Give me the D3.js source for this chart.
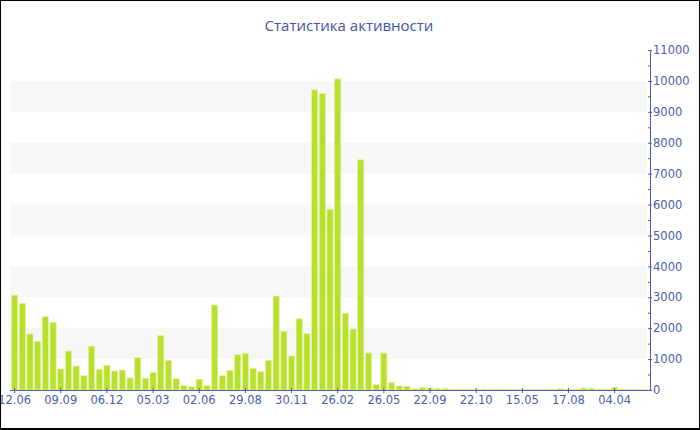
<!DOCTYPE html>
<html><head><meta charset="utf-8">
<script src="https://cdn.jsdelivr.net/npm/d3@7"></script>
<style>body{margin:0;background:#fff}svg{display:block}</style>
</head><body>
<script>
const title = "Статистика активности";
const values = [3070,2800,1810,1575,2370,2190,680,1260,775,460,
  1420,670,800,615,645,390,1045,380,560,1770,
  955,365,150,105,345,150,2750,460,635,1140,
  1185,700,600,960,3040,1895,1100,2305,1820,9710,
  9590,5840,10065,2480,1970,7450,1195,170,1195,250,
  130,120,40,85,65,55,55,30,30,20,
  25,25,25,25,25,25,25,25,25,25,
  25,45,30,25,65,60,30,30,85,25,
  25,25,25];
const tickLabels = ["12.06","09.09","06.12","05.03","02.06","29.08","30.11","26.02","26.05","22.09","22.10","15.05","17.08","04.04"];
const tickStep = 6;
const yTicks = [0,1000,2000,3000,4000,5000,6000,7000,8000,9000,10000,11000];

const W = 700, H = 430;
const axisColor = "#4b5ea8";
const svg = d3.select("body").append("svg").attr("width", W).attr("height", H);
svg.append("rect").attr("width", W).attr("height", H).attr("fill", "#fff");

const x = d3.scaleBand().domain(d3.range(values.length)).range([10, 650]).padding(0.2);
const y = d3.scaleLinear().domain([0, 11000]).range([390, 50]);

// background bands
const bands = yTicks.filter(v => v < 11000 && (v / 1000) % 2 === 1);
svg.append("g").selectAll("rect").data(bands).join("rect")
  .attr("x", 10).attr("width", 637)
  .attr("y", d => y(d + 1000)).attr("height", d => y(d) - y(d + 1000))
  .attr("fill", "#f7f7f7");

// bars
svg.append("g").selectAll("rect").data(values).join("rect")
  .attr("x", (d, i) => x(i)).attr("width", x.bandwidth())
  .attr("y", d => y(d)).attr("height", d => y(0) - y(d))
  .attr("fill", "#b9e02c").attr("stroke", "#e2f2a0").attr("stroke-width", 0.7);

// x axis
const tickIdx = tickLabels.map((t, i) => i * tickStep);
const xAxis = d3.axisBottom(x).tickValues(tickIdx)
  .tickFormat(d => tickLabels[d / tickStep]).tickSize(3).tickSizeOuter(0);
const gx = svg.append("g").attr("transform", "translate(0,390)").call(xAxis);
gx.select(".domain").attr("d", "M10,0.5H650").attr("stroke", axisColor);
gx.selectAll(".tick line").attr("stroke", axisColor).attr("y1", -2);
gx.selectAll(".tick text").attr("fill", axisColor).attr("font-family", "DejaVu Sans")
  .attr("font-size", 11.5).attr("dy", "0.95em").attr("y", 3);

// y axis (right side)
const yAxis = d3.axisRight(y).tickValues(yTicks).tickFormat(d3.format("d")).tickSize(2).tickSizeOuter(0);
const gy = svg.append("g").attr("transform", "translate(650,0)").call(yAxis);
gy.select(".domain").attr("stroke", axisColor);
gy.selectAll(".tick line").attr("stroke", axisColor).attr("x1", -2);
gy.selectAll(".tick text").attr("fill", axisColor).attr("font-family", "DejaVu Sans")
  .attr("font-size", 11.5).attr("x", 3);
// minor ticks
const minors = d3.range(500, 11000, 1000);
gy.append("g").selectAll("line").data(minors).join("line")
  .attr("x1", -2).attr("x2", 0).attr("y1", d => y(d) + 0.5).attr("y2", d => y(d) + 0.5)
  .attr("stroke", axisColor);

// title
svg.append("text").attr("x", 349).attr("y", 31).attr("text-anchor", "middle")
  .attr("font-family", "Open Sans").attr("font-size", 15).attr("fill", "#3f55a5").text(title);

// frame
svg.append("rect").attr("x", 0.5).attr("y", 0.5).attr("width", W - 1).attr("height", 428)
  .attr("fill", "none").attr("stroke", "#000");
svg.append("line").attr("x1", 0).attr("x2", W).attr("y1", 429.5).attr("y2", 429.5).attr("stroke", "#000");
</script>
</body></html>
